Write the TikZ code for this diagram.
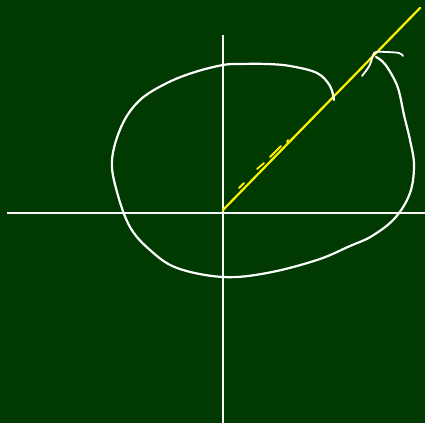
\documentclass[tikz,border=0pt]{standalone}
\begin{document}
\begin{tikzpicture}[x=1pt,y=-1pt,
  axis/.style={draw=white!92!gray,line width=2.2pt},
  chalk/.style={draw=white,line width=2.2pt,line cap=round,line join=round},
  ray/.style={draw=yellow,line width=2.2pt,line cap=round}]
\fill[fill={rgb,255:red,0;green,58;blue,0}] (0,0) rectangle (425,423);
\useasboundingbox (0,0) rectangle (425,423);
\coordinate (O) at (223,210);
\coordinate (xl) at (7,213);
\coordinate (xr) at (425,213);
\coordinate (yt) at (223,35);
\coordinate (yb) at (223,423);
\coordinate (R) at (420,8);
\draw[axis] (xl) -- (xr);
\draw[axis] (yt) -- (yb);
\draw[ray] (O) -- (R);
\draw[ray,line width=1.8pt] (239,188) -- (244,183);
\draw[ray,line width=1.8pt] (257,169) -- (264,163);
\draw[ray,line width=1.8pt] (270,157) -- (281,146);
\draw[ray,line width=1.8pt] (287,142) -- (288,140);
\draw[chalk] plot[smooth,tension=0.6] coordinates {
 (334,100) (330,86) (317,73) (290,66) (267,64) (240,64) (223,65) (195,72) (167,83)
 (140,100) (122,125) (112,160) (117,192) (130,227) (150,250) (177,268) (223,277)
 (267,273) (317,260) (350,246) (372,236) (395,218) (410,193) (414,165) (410,140)
 (404,115) (398,88) (389,70) (382,61) (376,57)};
\draw[chalk,line width=1.8pt] plot[smooth,tension=0.6] coordinates {
 (362,76) (368,68) (371,62) (373,55) (376,52) (386,52) (399,53) (403,56)};
\end{tikzpicture}
\end{document}
